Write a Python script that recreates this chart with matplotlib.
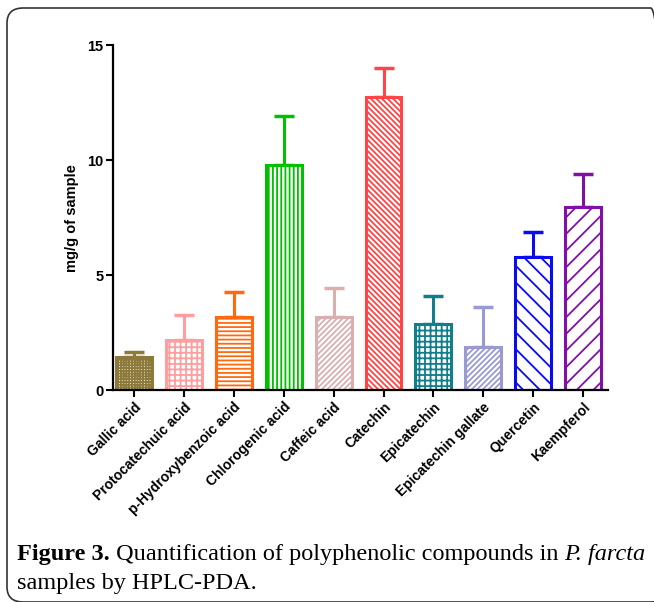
import numpy as np
import matplotlib
matplotlib.use("Agg")
import matplotlib.pyplot as plt
from matplotlib.patches import FancyBboxPatch

# data
compounds = ['Gallic acid', 'Protocatechuic acid', 'p-Hydroxybenzoic acid',
             'Chlorogenic acid', 'Caffeic acid', 'Catechin', 'Epicatechin',
             'Epicatechin gallate', 'Quercetin', 'Kaempferol']
means = [1.43, 2.17, 3.17, 9.78, 3.17, 12.74, 2.87, 1.87, 5.78, 7.96]
sd = [0.22, 1.09, 1.09, 2.13, 1.26, 1.26, 1.22, 1.73, 1.09, 1.43]
colors = ['#8C7A3A', '#FF9E9E', '#FF6A10', '#00C000', '#D9B0B0',
          '#FF4545', '#117E8C', '#9A9AD2', '#0A0AF5', '#8010A8']
hatches = ['++++++', '+++', '----', '||||', '//////',
           '\\\\\\\\\\\\', '+++', '//////', '\\\\', '//']
yticks = [0, 5, 10, 15]

plt.rcParams['font.family'] = ['Liberation Sans', 'DejaVu Sans']
plt.rcParams['hatch.linewidth'] = 1.3

fig = plt.figure(figsize=(6.54, 6.02), dpi=100)
ax = fig.add_axes([0.1728, 0.352, 0.757, 0.573])

x = np.arange(len(compounds))
for i in range(len(compounds)):
    ax.bar(x[i], means[i], width=0.72, facecolor='white', edgecolor=colors[i],
           hatch=hatches[i], linewidth=2.2, zorder=2)
    ax.errorbar(x[i], means[i], yerr=[[0], [sd[i]]], fmt='none',
                ecolor=colors[i], elinewidth=2.2, capsize=7, capthick=2.5, zorder=1)

ax.set_xlim(-0.42, 9.5)
ax.set_ylim(0, 15)
ax.set_yticks(yticks)
ax.set_xticks(x)
ax.set_xticklabels(compounds, rotation=45, ha='right', rotation_mode='anchor',
                   fontsize=10, fontweight='bold')
for lab in ax.get_yticklabels():
    lab.set_fontweight('bold')
    lab.set_fontsize(10.5)
ax.tick_params(direction='out', length=5, width=1.5, pad=2)
ax.spines['top'].set_visible(False)
ax.spines['right'].set_visible(False)
ax.spines['left'].set_linewidth(1.6)
ax.spines['bottom'].set_linewidth(1.6)
ax.set_ylabel('mg/g of sample', fontsize=10.5, fontweight='bold', labelpad=6)

# rounded frame around the figure
frame = FancyBboxPatch((7 / 654, 0.0), 660 / 654, 594 / 602,
                       boxstyle='round,pad=0,rounding_size=0.025',
                       transform=fig.transFigure, facecolor='none',
                       edgecolor='#333333', linewidth=1.2, clip_on=False)
fig.patches.append(frame)

# caption with mixed styles
cap_font = ['Liberation Serif', 'DejaVu Serif']
cap_size = 17.5
t1 = fig.text(17 / 654, 1 - 560 / 602, 'Figure 3.', fontsize=cap_size,
              fontweight='bold', family=cap_font, va='baseline')
a2 = fig.add_artist(plt.Annotation(' Quantification of polyphenolic compounds in ',
                                   xy=(1, 0), xycoords=t1, va='bottom',
                                   fontsize=cap_size, family=cap_font))
a3 = fig.add_artist(plt.Annotation('P. farcta', xy=(1, 0), xycoords=a2, va='bottom',
                                   fontsize=cap_size, style='italic', family=cap_font))
fig.text(17 / 654, 1 - 589 / 602, 'samples by HPLC-PDA.', fontsize=cap_size,
         family=cap_font, va='baseline')

fig.savefig('out.png', dpi=100)
